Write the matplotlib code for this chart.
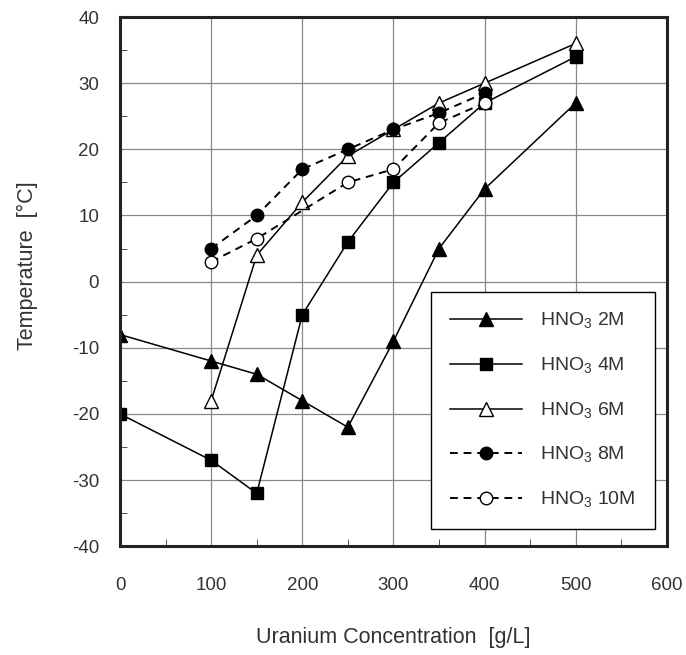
import matplotlib
matplotlib.use('Agg')
import matplotlib.pyplot as plt
from matplotlib.ticker import MultipleLocator

plt.rcParams['font.family'] = ['Liberation Sans', 'DejaVu Sans']
plt.rcParams['mathtext.fontset'] = 'custom'
plt.rcParams['mathtext.rm'] = 'Liberation Sans'
plt.rcParams['axes.unicode_minus'] = False

# HNO3 2M
x_2m = [0, 100, 150, 200, 250, 300, 350, 400, 500]
t_2m = [-8, -12, -14, -18, -22, -9, 5, 14, 27]
# HNO3 4M
x_4m = [0, 100, 150, 200, 250, 300, 350, 400, 500]
t_4m = [-20, -27, -32, -5, 6, 15, 21, 27, 34]
# HNO3 6M
x_6m = [100, 150, 200, 250, 300, 350, 400, 500]
t_6m = [-18, 4, 12, 19, 23, 27, 30, 36]
# HNO3 8M
x_8m = [100, 150, 200, 250, 300, 350, 400]
t_8m = [5, 10, 17, 20, 23, 25.5, 28.5]
# HNO3 10M
x_10m = [100, 150, 250, 300, 350, 400]
t_10m = [3, 6.5, 15, 17, 24, 27]

labels = [r'HNO$_\mathregular{3}$ 2M', r'HNO$_\mathregular{3}$ 4M', r'HNO$_\mathregular{3}$ 6M',
          r'HNO$_\mathregular{3}$ 8M', r'HNO$_\mathregular{3}$ 10M']

fig = plt.figure(figsize=(6.86, 6.55), dpi=100)
ax = fig.add_axes([0.175, 0.166, 0.797, 0.808])

ax.plot(x_2m, t_2m, color='black', lw=1.1, marker='^', ms=9.5, mfc='black', label=labels[0])
ax.plot(x_4m, t_4m, color='black', lw=1.1, marker='s', ms=9, mfc='black', label=labels[1])
ax.plot(x_6m, t_6m, color='black', lw=1.1, marker='^', ms=9.5, mfc='white', label=labels[2])
ax.plot(x_8m, t_8m, color='black', lw=1.4, ls=(0, (4, 3)), marker='o', ms=9, mfc='black', label=labels[3])
ax.plot(x_10m, t_10m, color='black', lw=1.4, ls=(0, (4, 3)), marker='o', ms=9, mfc='white', label=labels[4])

ax.set_xlim(0, 600)
ax.set_ylim(-40, 40)
ax.xaxis.set_major_locator(MultipleLocator(100))
ax.xaxis.set_minor_locator(MultipleLocator(50))
ax.yaxis.set_major_locator(MultipleLocator(10))
ax.yaxis.set_minor_locator(MultipleLocator(5))
ax.grid(True, which='major', color='#888888', lw=0.9)
ax.set_axisbelow(True)
ax.tick_params(which='major', direction='in', length=0, labelsize=13.5, colors='#333333')
ax.tick_params(axis='x', which='major', pad=22)
ax.tick_params(axis='y', which='major', pad=15)
ax.tick_params(which='minor', direction='in', length=5, color='#333333')
for s in ax.spines.values():
    s.set_linewidth(2.2)
    s.set_color('#222222')

ax.set_xlabel('Uranium Concentration  [g/L]', fontsize=15.5, color='#333333', labelpad=24)
ax.set_ylabel('Temperature  [°C]', fontsize=15.5, color='#333333')
ax.yaxis.set_label_coords(-0.15, 0.53)

leg = ax.legend(loc='lower right', bbox_to_anchor=(0.978, 0.032), borderaxespad=0, fontsize=14,
                handlelength=3.7, labelspacing=1.25, borderpad=1.0, handletextpad=0.9,
                fancybox=False, edgecolor='black', framealpha=1)
leg.get_frame().set_linewidth(1.0)
for t in leg.get_texts():
    t.set_color('#333333')

fig.savefig('out.png', dpi=100)
